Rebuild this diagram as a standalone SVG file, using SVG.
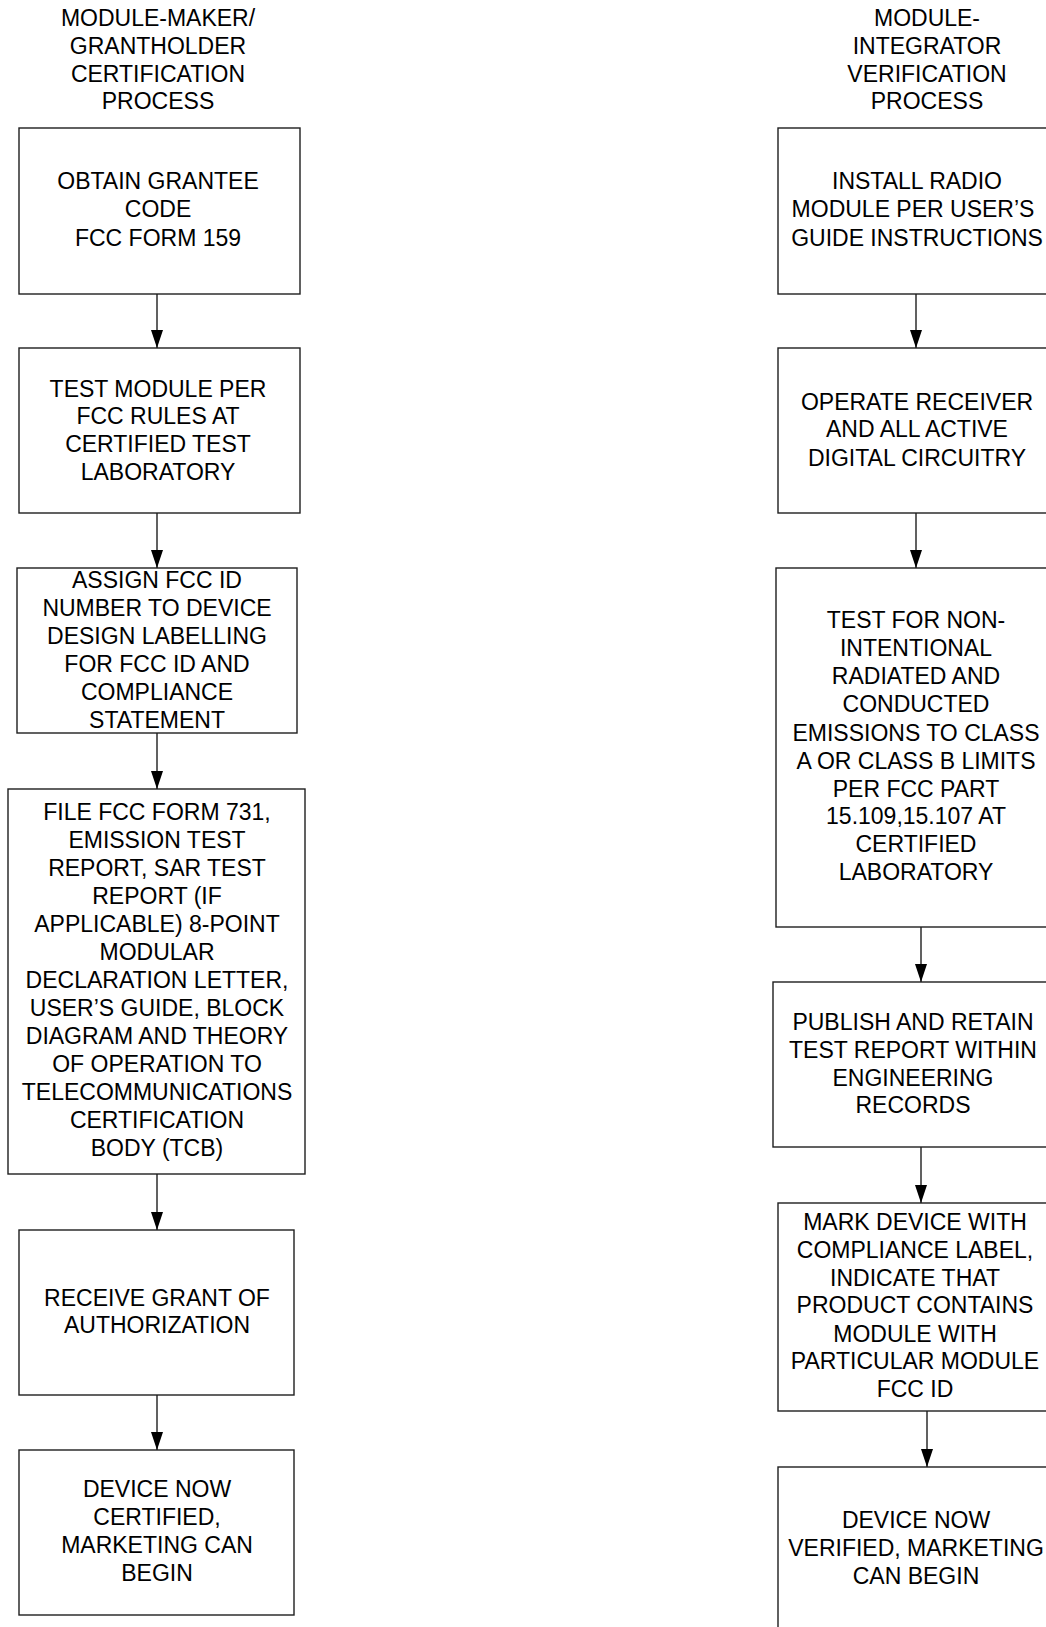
<svg xmlns="http://www.w3.org/2000/svg" width="1046" height="1627" viewBox="0 0 1046 1627">
<defs>
<style>
.box{fill:#fff;stroke:#1e1e1e;stroke-width:1.4}
.t{font-family:"Liberation Sans",Arial,sans-serif;font-size:23px;fill:#000;text-anchor:middle}
.c{stroke:#1e1e1e;stroke-width:1.4;fill:none}
</style>
<marker id="ah" viewBox="0 0 18 12" markerWidth="18" markerHeight="12" refX="18" refY="6" orient="auto" markerUnits="userSpaceOnUse">
<path d="M0,0 L18,6 L0,12 z" fill="#000"/>
</marker>
</defs>
<rect width="1046" height="1627" fill="#fff"/>
<g id="title-left"><text class="t"><tspan x="158" y="26">MODULE-MAKER/</tspan><tspan x="158" y="54">GRANTHOLDER</tspan><tspan x="158" y="82">CERTIFICATION</tspan><tspan x="158" y="109">PROCESS</tspan></text></g>
<g id="title-right"><text class="t"><tspan x="927" y="26">MODULE-</tspan><tspan x="927" y="54">INTEGRATOR</tspan><tspan x="927" y="82">VERIFICATION</tspan><tspan x="927" y="109">PROCESS</tspan></text></g>
<g id="L1"><rect class="box" x="19" y="128" width="281" height="166"/><text class="t"><tspan x="158" y="189">OBTAIN GRANTEE</tspan><tspan x="158" y="217">CODE</tspan><tspan x="158" y="246">FCC FORM 159</tspan></text></g>
<g id="L2"><rect class="box" x="19" y="348" width="281" height="165"/><text class="t"><tspan x="158" y="397">TEST MODULE PER</tspan><tspan x="158" y="424">FCC RULES AT</tspan><tspan x="158" y="452">CERTIFIED TEST</tspan><tspan x="158" y="480">LABORATORY</tspan></text></g>
<g id="L3"><rect class="box" x="17" y="568" width="280" height="165"/><text class="t"><tspan x="157" y="588">ASSIGN FCC ID</tspan><tspan x="157" y="616">NUMBER TO DEVICE</tspan><tspan x="157" y="644">DESIGN LABELLING</tspan><tspan x="157" y="672">FOR FCC ID AND</tspan><tspan x="157" y="700">COMPLIANCE</tspan><tspan x="157" y="728">STATEMENT</tspan></text></g>
<g id="L4"><rect class="box" x="8" y="789" width="297" height="385"/><text class="t"><tspan x="157" y="820">FILE FCC FORM 731,</tspan><tspan x="157" y="848">EMISSION TEST</tspan><tspan x="157" y="876">REPORT, SAR TEST</tspan><tspan x="157" y="904">REPORT (IF</tspan><tspan x="157" y="932">APPLICABLE) 8-POINT</tspan><tspan x="157" y="960">MODULAR</tspan><tspan x="157" y="988">DECLARATION LETTER,</tspan><tspan x="157" y="1016">USER’S GUIDE, BLOCK</tspan><tspan x="157" y="1044">DIAGRAM AND THEORY</tspan><tspan x="157" y="1072">OF OPERATION TO</tspan><tspan x="157" y="1100">TELECOMMUNICATIONS</tspan><tspan x="157" y="1128">CERTIFICATION</tspan><tspan x="157" y="1156">BODY (TCB)</tspan></text></g>
<g id="L5"><rect class="box" x="19" y="1230" width="275" height="165"/><text class="t"><tspan x="157" y="1306">RECEIVE GRANT OF</tspan><tspan x="157" y="1333">AUTHORIZATION</tspan></text></g>
<g id="L6"><rect class="box" x="19" y="1450" width="275" height="165"/><text class="t"><tspan x="157" y="1497">DEVICE NOW</tspan><tspan x="157" y="1525">CERTIFIED,</tspan><tspan x="157" y="1553">MARKETING CAN</tspan><tspan x="157" y="1581">BEGIN</tspan></text></g>
<g id="R1"><rect class="box" x="778" y="128" width="280" height="166"/><text class="t"><tspan x="917" y="189">INSTALL RADIO</tspan><tspan x="913" y="217">MODULE PER USER’S</tspan><tspan x="917" y="246">GUIDE INSTRUCTIONS</tspan></text></g>
<g id="R2"><rect class="box" x="778" y="348" width="280" height="165"/><text class="t"><tspan x="917" y="410">OPERATE RECEIVER</tspan><tspan x="917" y="437">AND ALL ACTIVE</tspan><tspan x="917" y="466">DIGITAL CIRCUITRY</tspan></text></g>
<g id="R3"><rect class="box" x="776" y="568" width="282" height="359"/><text class="t"><tspan x="916" y="628">TEST FOR NON-</tspan><tspan x="916" y="656">INTENTIONAL</tspan><tspan x="916" y="684">RADIATED AND</tspan><tspan x="916" y="712">CONDUCTED</tspan><tspan x="916" y="741">EMISSIONS TO CLASS</tspan><tspan x="916" y="769">A OR CLASS B LIMITS</tspan><tspan x="916" y="797">PER FCC PART</tspan><tspan x="916" y="824">15.109,15.107 AT</tspan><tspan x="916" y="852">CERTIFIED</tspan><tspan x="916" y="880">LABORATORY</tspan></text></g>
<g id="R4"><rect class="box" x="773" y="982" width="285" height="165"/><text class="t"><tspan x="913" y="1030">PUBLISH AND RETAIN</tspan><tspan x="913" y="1058">TEST REPORT WITHIN</tspan><tspan x="913" y="1086">ENGINEERING</tspan><tspan x="913" y="1113">RECORDS</tspan></text></g>
<g id="R5"><rect class="box" x="778" y="1203" width="280" height="208"/><text class="t"><tspan x="915" y="1230">MARK DEVICE WITH</tspan><tspan x="915" y="1258">COMPLIANCE LABEL,</tspan><tspan x="915" y="1286">INDICATE THAT</tspan><tspan x="915" y="1313">PRODUCT CONTAINS</tspan><tspan x="915" y="1342">MODULE WITH</tspan><tspan x="915" y="1369">PARTICULAR MODULE</tspan><tspan x="915" y="1397">FCC ID</tspan></text></g>
<g id="R6"><rect class="box" x="778" y="1467" width="280" height="180"/><text class="t"><tspan x="916" y="1528">DEVICE NOW</tspan><tspan x="916" y="1556">VERIFIED, MARKETING</tspan><tspan x="916" y="1584">CAN BEGIN</tspan></text></g>
<g id="connectors">
<line class="c" x1="157" y1="294" x2="157" y2="348" marker-end="url(#ah)"/>
<line class="c" x1="157" y1="513" x2="157" y2="568" marker-end="url(#ah)"/>
<line class="c" x1="157" y1="733" x2="157" y2="789" marker-end="url(#ah)"/>
<line class="c" x1="157" y1="1174" x2="157" y2="1230" marker-end="url(#ah)"/>
<line class="c" x1="157" y1="1395" x2="157" y2="1450" marker-end="url(#ah)"/>
<line class="c" x1="916" y1="294" x2="916" y2="348" marker-end="url(#ah)"/>
<line class="c" x1="916" y1="513" x2="916" y2="568" marker-end="url(#ah)"/>
<line class="c" x1="921" y1="927" x2="921" y2="982" marker-end="url(#ah)"/>
<line class="c" x1="921" y1="1147" x2="921" y2="1203" marker-end="url(#ah)"/>
<line class="c" x1="927" y1="1411" x2="927" y2="1467" marker-end="url(#ah)"/>
</g>
</svg>
